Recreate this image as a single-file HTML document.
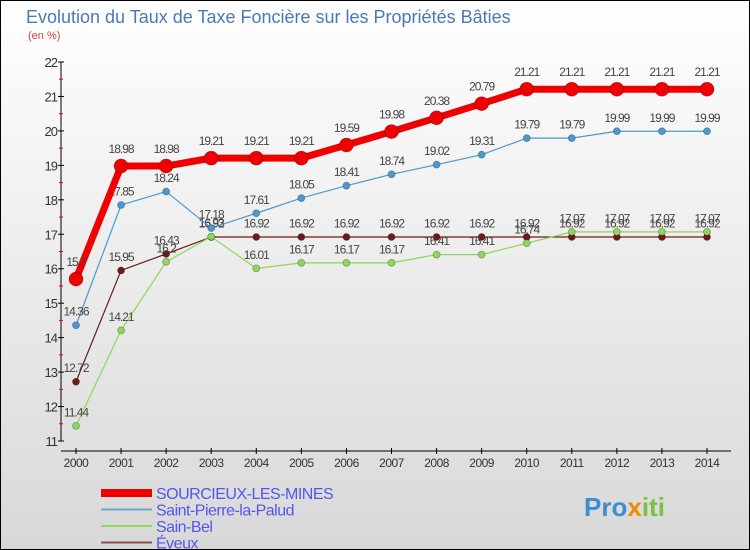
<!DOCTYPE html>
<html><head><meta charset="utf-8"><style>
body{margin:0}
#c{width:748px;height:548px;border:1px solid #000;background:linear-gradient(#fff,#d8d8d8);position:relative;font-family:"Liberation Sans",sans-serif;overflow:hidden}
</style></head><body>
<div id="c">
<svg id="s" width="748" height="548" xmlns="http://www.w3.org/2000/svg">
<text x="25" y="22" font-size="18" fill="#4a78b8">Evolution du Taux de Taxe Foncière sur les Propriétés Bâties</text>
<text x="27" y="38" font-size="11" fill="#d04040">(en %)</text>
<g id="ax"></g><g id="ser"></g><g id="leg"></g>
<text x="583" y="515" font-size="26" font-weight="bold" fill="#3a8fd0">Pro<tspan fill="#f08a00">x</tspan><tspan fill="#7ac143">iti</tspan></text>
</svg></div>
<script>
const years=[2000,2001,2002,2003,2004,2005,2006,2007,2008,2009,2010,2011,2012,2013,2014];
const yTicks=[11,12,13,14,15,16,17,18,19,20,21,22];
const sourcieux=[15.7,18.98,18.98,19.21,19.21,19.21,19.59,19.98,20.38,20.79,21.21,21.21,21.21,21.21,21.21];
const saintPierre=[14.36,17.85,18.24,17.18,17.61,18.05,18.41,18.74,19.02,19.31,19.79,19.79,19.99,19.99,19.99];
const sainBel=[11.44,14.21,16.2,16.93,16.01,16.17,16.17,16.17,16.41,16.41,16.74,17.07,17.07,17.07,17.07];
const eveux=[12.72,15.95,16.43,16.92,16.92,16.92,16.92,16.92,16.92,16.92,16.92,16.92,16.92,16.92,16.92];
const names=["SOURCIEUX-LES-MINES","Saint-Pierre-la-Palud","Sain-Bel","Éveux"];
const NS="http://www.w3.org/2000/svg";
const X=i=>75+i*(631/14), Y=v=>440-(v-11)*(379/11);
function mk(p,t,a){const e=document.createElementNS(NS,t);for(const k in a)e.setAttribute(k,a[k]);p.appendChild(e);return e;}
const ax=document.getElementById('ax');
let l=mk(ax,'line',{x1:60,y1:61,x2:60,y2:440,stroke:'#000'});

l=mk(ax,'line',{x1:60,y1:450,x2:730,y2:450,stroke:'#000'});

yTicks.forEach(v=>{mk(ax,'line',{x1:57,x2:63,y1:Y(v),y2:Y(v),stroke:'#000'});
 if(v<22)mk(ax,'line',{x1:58,x2:62,y1:Y(v+0.5),y2:Y(v+0.5),stroke:'#e00'});
 const t=mk(ax,'text',{x:56,y:Y(v)+5,'font-size':13,'text-anchor':'end',fill:'#333','letter-spacing':'-1'});t.textContent=v;
 });
years.forEach((y,i)=>{mk(ax,'line',{x1:X(i),x2:X(i),y1:447,y2:453,stroke:'#000'});
 const t=mk(ax,'text',{x:X(i),y:466,'font-size':12,'text-anchor':'middle',fill:'#333','letter-spacing':'-0.5'});t.textContent=y;
 });
const ser=document.getElementById('ser');
const defs=[[eveux,'#6b1a1a',1.2,3.5,'eveux'],[sainBel,'#8fd65a',1.2,3.5,'sain-bel'],[saintPierre,'#4a9ad0',1.2,3.5,'saint-pierre'],[sourcieux,'#f00000',7,7,'sourcieux']];
defs.forEach(([d,c,w,r,n])=>{
 const g=mk(ser,'g',{});
 mk(g,'polyline',{points:d.map((v,i)=>X(i)+','+Y(v)).join(' '),fill:'none',stroke:c,'stroke-width':w,'stroke-linejoin':'round'});
 d.forEach((v,i)=>{const p=mk(g,'circle',{cx:X(i),cy:Y(v),r:r,fill:c,stroke:'rgba(0,0,0,0.3)','stroke-width':0.8});
  
  const t=mk(g,'text',{x:X(i),y:Y(v)-(r+6),'font-size':12,'text-anchor':'middle',fill:'#444','letter-spacing':'-1'});t.textContent=v;});
});
const leg=document.getElementById('leg');
const lc=['#f00000','#6fa8d0','#8fd65a','#8b5050'],lw=[8,2,2,2];
names.forEach((n,i)=>{const y=492+i*16.5;
 const g=mk(leg,'g',{});
 mk(g,'line',{x1:100,x2:151,y1:y,y2:y,stroke:lc[i],'stroke-width':lw[i]});
 const t=mk(g,'text',{x:155,y:y+6,'font-size':16,fill:'#5555ee','letter-spacing':'-0.5'});t.textContent=n;});
</script></body></html>
